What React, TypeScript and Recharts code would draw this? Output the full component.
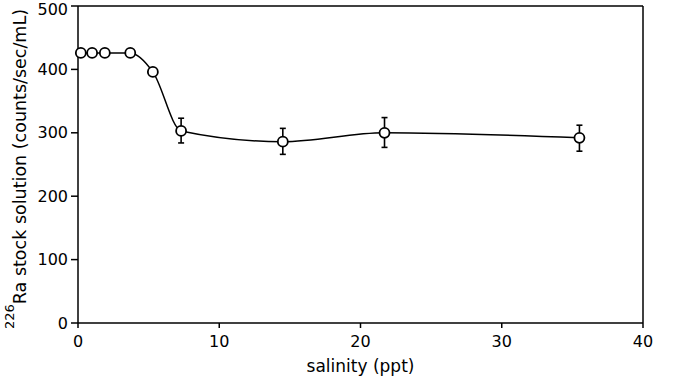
import React from 'react';
import { LineChart, Line, XAxis, YAxis, ErrorBar, ReferenceLine } from 'recharts';

// salinity (ppt) of each sample
const salinity = [0.2, 1.0, 1.9, 3.7, 5.3, 7.3, 14.5, 21.7, 35.5];
// 226Ra in stock solution (counts/sec/mL)
const activity = [426, 426, 426, 426, 396, 303, 286, 300, 292];
// error bars [minus, plus]; null where none was drawn
const errors: ([number, number] | null)[] = [null, null, null, null, null, [19, 20], [20, 21], [23, 24], [21, 20]];

const xTicks = [0, 10, 20, 30, 40];
const yTicks = [0, 100, 200, 300, 400, 500];

const data = salinity.map((s, i) => ({ s, ra: activity[i], err: errors[i] }));

const FONT = '"DejaVu Sans", Verdana, sans-serif';

// rotated y title with the superscript mass number
const YLabel = () => (
  <text
    transform="translate(26,169) rotate(-90)"
    textAnchor="middle"
    fontFamily={FONT}
    fontSize={17.5}
    fill="#000"
  >
    <tspan fontSize={13} dy={-12}>226</tspan>
    <tspan dy={12}>Ra stock solution (counts/sec/mL)</tspan>
  </text>
);

export default function App() {
  return (
    <div style={{ position: 'absolute', left: 0, top: 0, background: '#fff' }}>
      <LineChart
        width={685}
        height={382}
        data={data}
        margin={{ top: 6, right: 42, left: 0, bottom: 0 }}
      >
        <XAxis
          dataKey="s"
          type="number"
          domain={[0, 40]}
          ticks={xTicks}
          tickSize={5}
          tickMargin={8}
          height={59}
          stroke="#000"
          strokeWidth={1.5}
          tick={{ fill: '#000', fontSize: 16, fontFamily: FONT }}
          label={{ value: 'salinity (ppt)', position: 'insideBottom', offset: 10, fill: '#000', fontSize: 17, fontFamily: FONT }}
        />
        <YAxis
          type="number"
          domain={[0, 500]}
          ticks={yTicks}
          tickSize={7}
          tickMargin={3}
          width={78}
          stroke="#000"
          strokeWidth={1.5}
          tick={{ fill: '#000', fontSize: 16, fontFamily: FONT }}
          label={{ content: () => <YLabel /> }}
        />
        <ReferenceLine y={500} stroke="#000" strokeWidth={1.5} />
        <ReferenceLine x={40} stroke="#000" strokeWidth={1.5} />
        <Line
          type="monotone"
          dataKey="ra"
          stroke="#000"
          strokeWidth={1.5}
          dot={{ r: 5, fill: '#fff', stroke: '#000', strokeWidth: 1.8 }}
          isAnimationActive={false}
        >
          <ErrorBar dataKey="err" direction="y" width={3} stroke="#000" strokeWidth={1.6} />
        </Line>
      </LineChart>
    </div>
  );
}
